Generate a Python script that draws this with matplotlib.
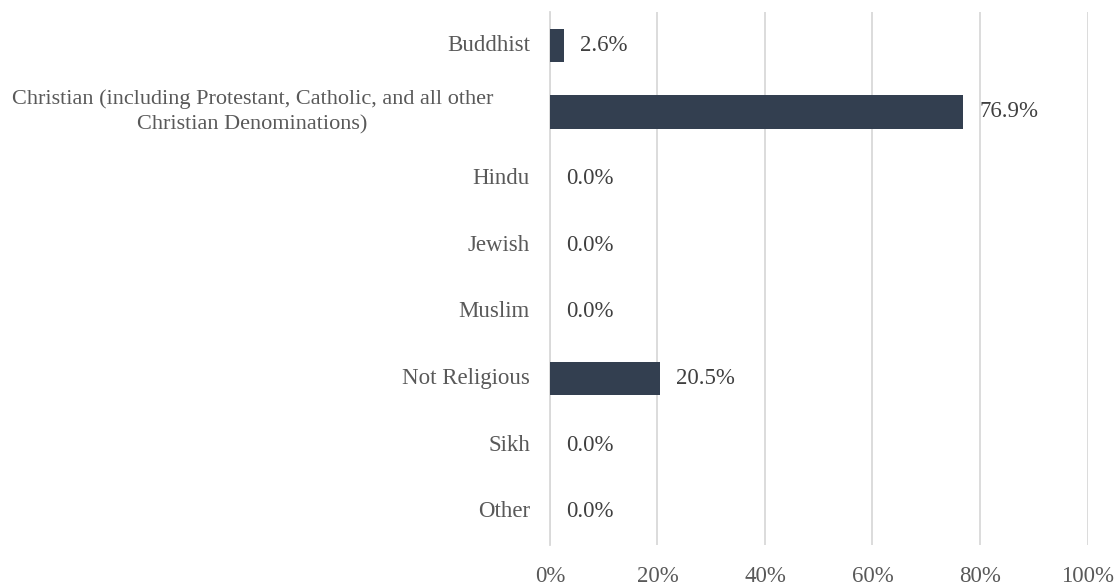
import matplotlib.pyplot as plt
import numpy as np

# Chart data
categories = ["Buddhist",
              "Christian (including Protestant, Catholic, and all other\nChristian Denominations)",
              "Hindu", "Jewish", "Muslim", "Not Religious", "Sikh", "Other"]
percentages = [2.6, 76.9, 0.0, 0.0, 0.0, 20.5, 0.0, 0.0]
x_ticks = [0, 20, 40, 60, 80, 100]

bar_color = "#333F50"
label_color = "#595959"
value_color = "#404040"
grid_color = "#D9D9D9"

plt.rcParams['font.family'] = ['Liberation Serif', 'DejaVu Serif']

fig = plt.figure(figsize=(11.2, 5.86), dpi=100)
ax = fig.add_axes([0.491, 0.070, 0.480, 0.9095])

y_pos = np.arange(len(categories))
ax.barh(y_pos, percentages, height=0.5, color=bar_color, zorder=3)

# Value labels to the right of each bar
for y, v in zip(y_pos, percentages):
    ax.annotate(f"{v:.1f}%", xy=(v, y), xytext=(11.5, 0), textcoords="offset points",
                ha="left", va="center", fontsize=16.5, color=value_color)

# Category labels (the wrapped one sits in a narrower, centred box)
for y, name in zip(y_pos, categories):
    if "\n" in name:
        ax.annotate(name, xy=(0, y), xytext=(-41, 0), textcoords="offset points",
                    ha="right", va="center", multialignment="center",
                    linespacing=1.45, fontsize=16, color=label_color)
    else:
        ax.annotate(name, xy=(0, y), xytext=(-14.4, 0), textcoords="offset points",
                    ha="right", va="center", fontsize=16.5, color=label_color)

ax.set_xlim(0, 100)
ax.set_ylim(len(categories) - 0.5, -0.5)
ax.set_xticks(x_ticks)
ax.set_xticklabels([f"{t}%" for t in x_ticks])
ax.set_yticks(y_pos)
ax.set_yticklabels([])

ax.tick_params(axis="both", length=0, labelsize=16.5, colors=label_color)
ax.tick_params(axis="x", pad=15)

ax.grid(axis="x", color=grid_color, linewidth=1.3, zorder=0)
ax.grid(axis="y", visible=False)
for side in ["top", "right", "bottom"]:
    ax.spines[side].set_visible(False)
ax.spines["left"].set_color(grid_color)
ax.spines["left"].set_linewidth(1.3)

plt.savefig("out.png", dpi=100)
